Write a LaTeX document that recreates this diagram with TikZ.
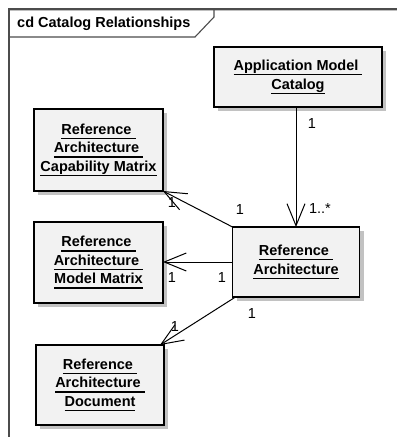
\documentclass[tikz,border=0pt]{standalone}
\usepackage{fontspec}
\setmainfont{Liberation Sans}
\usetikzlibrary{arrows.meta,shadows}
\newcommand\myul[1]{\setbox0\hbox{#1}\rlap{\rule[-4.6pt]{\wd0}{1.1pt}}\box0}
\begin{document}
\begin{tikzpicture}[x=1pt,y=-1pt,
  cls/.style={draw=black, line width=1.1pt, fill=black!5, outer sep=0pt, inner sep=0pt,
    align=center, font=\fontsize{14.5}{18.5}\selectfont\bfseries,
    drop shadow={shadow xshift=4pt, shadow yshift=-4pt, fill=black!28, opacity=0.85}},
  assoc/.style={line width=1pt, -{Straight Barb[length=22pt,width=18pt,line width=1pt]}},
  mult/.style={font=\fontsize{14.5}{17}\selectfont, inner sep=0pt},
  framel/.style={draw=black!70, line width=1.1pt},
]
\useasboundingbox (0,0) rectangle (397,437);
\fill[white] (0,0) rectangle (397,437);
% frame
\draw[black!25, line width=1pt] (10,10.8) -- (397,10.8);
\draw[framel] (9,437) -- (9,9) -- (397,9);
\draw[framel] (9,37) -- (195,37) -- (214,17) -- (214,9);
\node[anchor=west, inner sep=0pt, font=\fontsize{14.5}{17}\selectfont\bfseries] (title) at (17,24) {cd Catalog Relationships};
% classes
\node[cls, minimum width=168pt, minimum height=60pt] (app) at (298,77) {\myul{Application Model\ }\\\myul{Catalog}};
\node[cls, minimum width=127pt, minimum height=70pt] (ra) at (296,262) {\myul{Reference\ }\\\myul{Architecture}};
\node[cls, minimum width=129pt, minimum height=82pt] (cap) at (98.5,150) {\myul{Reference\ }\\\myul{Architecture\ }\\\myul{Capability Matrix}};
\node[cls, minimum width=129pt, minimum height=81pt] (model) at (98.5,262.5) {\myul{Reference\ }\\\myul{Architecture\ }\\\myul{Model Matrix}};
\node[cls, minimum width=128pt, minimum height=80pt] (doc) at (100,385) {\myul{Reference\ }\\\myul{Architecture\ }\\\myul{Document}};
% associations
\draw[assoc] (app.south -| ra.north) -- (ra.north);
\draw[assoc] (ra.north west) -- (cap.south east);
\draw[assoc] (ra.west) -- (ra.west -| model.east);
\draw[assoc] ([xshift=3pt]ra.south west) -- ([xshift=-4pt]doc.north east);
% multiplicities
\node[mult] (m1) at (312,124) {1};
\node[mult] (m2) at (320,209) {1..*};
\node[mult] (m3) at (240,210) {1};
\node[mult] (m4) at (172,203) {1};
\node[mult] (m5) at (172,278) {1};
\node[mult] (m6) at (222,278) {1};
\node[mult] (m7) at (175,327) {1};
\node[mult] (m8) at (252,314) {1};
\end{tikzpicture}
\end{document}
